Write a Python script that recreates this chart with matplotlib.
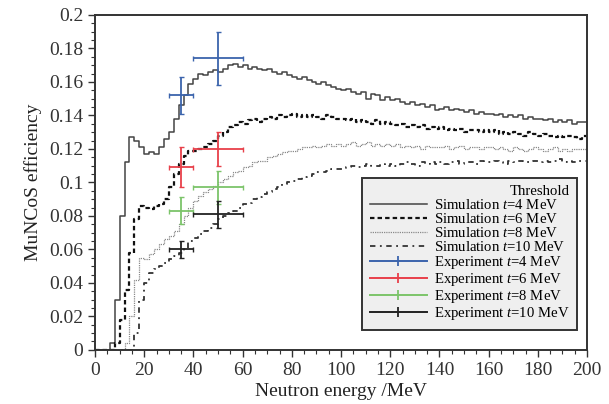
import matplotlib
matplotlib.use("Agg")
import matplotlib.pyplot as plt
import numpy as np
from matplotlib.lines import Line2D
from matplotlib.ticker import MultipleLocator, FuncFormatter

plt.rcParams["font.family"] = ["Liberation Serif", "DejaVu Serif"]
plt.rcParams["mathtext.fontset"] = "custom"
plt.rcParams["mathtext.rm"] = "Liberation Serif"
plt.rcParams["mathtext.it"] = "Liberation Serif:italic"

# simulated efficiency, 2 MeV bins from 0 to 200 MeV
bin_edges = np.arange(0, 201, 2)

sim_t4 = [
    0, 0, 0, 0.004, 0.03, 0.08, 0.112, 0.127, 0.125, 0.121,
    0.117, 0.118, 0.117, 0.121, 0.126, 0.130, 0.138, 0.146, 0.152, 0.159,
    0.162, 0.165, 0.164, 0.166, 0.167, 0.166, 0.168, 0.170, 0.171, 0.169,
    0.170, 0.168, 0.169, 0.168, 0.167, 0.168, 0.166, 0.165, 0.166, 0.164,
    0.163, 0.162, 0.163, 0.161, 0.160, 0.159, 0.160, 0.158, 0.157, 0.156,
    0.155, 0.156, 0.154, 0.153, 0.154, 0.150, 0.153, 0.152, 0.149, 0.151,
    0.149, 0.150, 0.148, 0.147, 0.148, 0.146, 0.147, 0.145, 0.146, 0.143,
    0.144, 0.145, 0.143, 0.144, 0.143, 0.142, 0.143, 0.141, 0.142, 0.141,
    0.141, 0.140, 0.141, 0.139, 0.140, 0.139, 0.140, 0.138, 0.139, 0.138,
    0.138, 0.137, 0.138, 0.136, 0.137, 0.136, 0.137, 0.135, 0.136, 0.136,
]
sim_t6 = [
    0, 0, 0, 0, 0.004, 0.018, 0.036, 0.058, 0.078, 0.086,
    0.085, 0.084, 0.086, 0.087, 0.090, 0.097, 0.105, 0.111, 0.116, 0.119,
    0.119, 0.120, 0.121, 0.123, 0.125, 0.128, 0.130, 0.133, 0.134, 0.136,
    0.135, 0.137, 0.138, 0.136, 0.138, 0.139, 0.138, 0.140, 0.139, 0.140,
    0.141, 0.139, 0.140, 0.139, 0.140, 0.139, 0.138, 0.140, 0.139, 0.138,
    0.138, 0.137, 0.138, 0.136, 0.137, 0.136, 0.135, 0.137, 0.135, 0.136,
    0.135, 0.134, 0.135, 0.133, 0.134, 0.133, 0.134, 0.132, 0.133, 0.132,
    0.133, 0.131, 0.132, 0.131, 0.132, 0.130, 0.131, 0.131, 0.130, 0.131,
    0.130, 0.131, 0.129, 0.130, 0.129, 0.130, 0.129, 0.128, 0.130, 0.129,
    0.128, 0.129, 0.128, 0.127, 0.128, 0.127, 0.128, 0.127, 0.126, 0.128,
]
sim_t8 = [
    0, 0, 0, 0, 0, 0, 0.004, 0.02, 0.042, 0.055,
    0.054, 0.057, 0.060, 0.063, 0.066, 0.068, 0.071, 0.075, 0.080, 0.085,
    0.089, 0.092, 0.094, 0.096, 0.098, 0.100, 0.102, 0.104, 0.106, 0.107,
    0.109, 0.110, 0.112, 0.113, 0.113, 0.115, 0.116, 0.117, 0.118, 0.119,
    0.119, 0.120, 0.121, 0.121, 0.122, 0.121, 0.122, 0.123, 0.122, 0.123,
    0.122, 0.123, 0.124, 0.122, 0.123, 0.124, 0.122, 0.123, 0.122, 0.123,
    0.122, 0.123, 0.121, 0.122, 0.121, 0.122, 0.120, 0.122, 0.121, 0.121,
    0.121, 0.122, 0.120, 0.121, 0.122, 0.120, 0.121, 0.121, 0.120, 0.121,
    0.121, 0.120, 0.121, 0.120, 0.119, 0.121, 0.120, 0.119, 0.120, 0.121,
    0.120, 0.119, 0.120, 0.121, 0.119, 0.120, 0.119, 0.120, 0.120, 0.120,
]
sim_t10 = [
    0, 0, 0, 0, 0, 0, 0, 0, 0.010, 0.030,
    0.040, 0.046, 0.048, 0.050, 0.052, 0.054, 0.056, 0.058, 0.061, 0.065,
    0.067, 0.069, 0.071, 0.073, 0.075, 0.078, 0.080, 0.082, 0.083, 0.085,
    0.087, 0.088, 0.090, 0.091, 0.093, 0.094, 0.096, 0.097, 0.099, 0.100,
    0.101, 0.102, 0.103, 0.104, 0.105, 0.106, 0.106, 0.107, 0.108, 0.108,
    0.108, 0.109, 0.110, 0.109, 0.110, 0.111, 0.110, 0.110, 0.111, 0.110,
    0.111, 0.110, 0.111, 0.112, 0.111, 0.110, 0.112, 0.111, 0.112, 0.111,
    0.112, 0.111, 0.112, 0.113, 0.111, 0.112, 0.112, 0.111, 0.113, 0.112,
    0.112, 0.113, 0.112, 0.111, 0.113, 0.112, 0.113, 0.112, 0.112, 0.113,
    0.112, 0.113, 0.112, 0.113, 0.114, 0.112, 0.113, 0.112, 0.113, 0.113,
]

# experimental points
exp_energy = [35, 50]
exp_energy_err = [5, 10]
exp_t4 = [0.152, 0.174]
exp_t4_err = [0.011, 0.016]
exp_t6 = [0.109, 0.120]
exp_t6_err = [0.012, 0.010]
exp_t8 = [0.083, 0.097]
exp_t8_err = [0.008, 0.010]
exp_t10 = [0.060, 0.081]
exp_t10_err = [0.005, 0.008]

fig = plt.figure(figsize=(6.09, 4.04), dpi=100)
ax = fig.add_axes([0.156, 0.134, 0.808, 0.829])

handles = []
sims = [
    (sim_t4, "Simulation $t$=4 MeV", dict(color="#444444", lw=1.1, ls="-")),
    (sim_t6, "Simulation $t$=6 MeV", dict(color="#111111", lw=1.6, ls=(0, (2, 1.4)))),
    (sim_t8, "Simulation $t$=8 MeV", dict(color="#8a8a8a", lw=0.9, ls=(0, (1, 0.8)))),
    (sim_t10, "Simulation $t$=10 MeV", dict(color="#333333", lw=1.3, ls=(0, (3, 2.5, 1, 2.5)))),
]
for vals, lab, st in sims:
    ln, = ax.step(bin_edges, np.append(vals, vals[-1]), where="post", label=lab, **st)
    handles.append(ln)

exps = [
    (exp_t4, exp_t4_err, "#3c64ad", "Experiment $t$=4 MeV"),
    (exp_t6, exp_t6_err, "#e8404a", "Experiment $t$=6 MeV"),
    (exp_t8, exp_t8_err, "#7cc46a", "Experiment $t$=8 MeV"),
    (exp_t10, exp_t10_err, "#222222", "Experiment $t$=10 MeV"),
]
for vals, err, col, lab in exps:
    ax.errorbar(exp_energy, vals, xerr=exp_energy_err, yerr=err, fmt="none",
                ecolor=col, elinewidth=1.3, capsize=1.8, capthick=1.0)
    handles.append(Line2D([], [], color=col, lw=1.4, marker="|", markersize=7,
                          markeredgewidth=1.3, label=lab))

ax.set_xlim(0, 200)
ax.set_ylim(0, 0.2)
ax.xaxis.set_major_locator(MultipleLocator(20))
ax.xaxis.set_minor_locator(MultipleLocator(5))
ax.yaxis.set_major_locator(MultipleLocator(0.02))
ax.yaxis.set_minor_locator(MultipleLocator(0.005))
ax.yaxis.set_major_formatter(FuncFormatter(lambda v, p: "%g" % round(v, 3)))
ax.tick_params(which="major", direction="out", length=5, width=1, labelsize=14, colors="#333333")
ax.tick_params(which="minor", direction="out", length=3, width=0.8, colors="#333333")
for sp in ax.spines.values():
    sp.set_linewidth(1.4)
    sp.set_color("#333333")

ax.set_xlabel("Neutron energy /MeV", fontsize=14, color="#222222", labelpad=3)
ax.set_ylabel("MuNCoS efficiency", fontsize=14, color="#222222", labelpad=5)

leg = ax.legend(handles=handles, loc="lower right", bbox_to_anchor=(0.98, 0.06),
                borderaxespad=0, title="Threshold", alignment="right",
                fontsize=10.6, title_fontsize=10.6,
                handlelength=3.9, handletextpad=0.5, labelspacing=0.0,
                borderpad=0.5, frameon=True, fancybox=False, framealpha=1)
leg.get_frame().set_facecolor("#efefef")
leg.get_frame().set_edgecolor("#333333")
leg.get_frame().set_linewidth(1.4)

fig.savefig("out.png", dpi=100)
